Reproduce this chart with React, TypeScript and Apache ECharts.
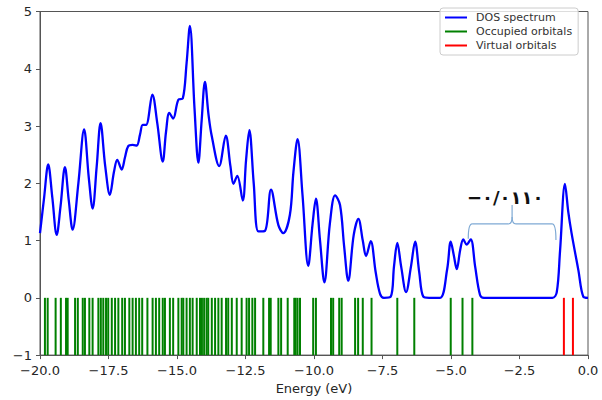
import React, { useEffect, useRef } from "react";
import * as echarts from "echarts";

// DOS spectrum (energy in eV, intensity)
const dosEnergy = [
  -20.0, -19.85, -19.7, -19.55, -19.39, -19.25, -19.09, -18.95, -18.81, -18.6,
  -18.39, -18.22, -18.08, -17.93, -17.79, -17.62, -17.45, -17.3, -17.18, -17.02,
  -16.9, -16.78, -16.62, -16.47, -16.35, -16.25, -16.13, -15.9, -15.72, -15.52,
  -15.4, -15.28, -15.14, -14.95, -14.79, -14.65, -14.53, -14.36, -14.22, -14.1,
  -13.98, -13.85, -13.73, -13.46, -13.22, -13.05, -12.94, -12.8, -12.6, -12.48,
  -12.36, -12.2, -12.03, -11.79, -11.57, -11.3, -11.12, -10.88, -10.75, -10.6,
  -10.42, -10.21, -10.05, -9.93, -9.78, -9.62, -9.42, -9.23, -9.05, -8.9,
  -8.75, -8.55, -8.38, -8.22, -8.1, -7.93, -7.75, -7.59, -7.45, -7.2,
  -7.08, -6.96, -6.82, -6.64, -6.46, -6.31, -6.16, -6.01, -5.8, -5.4,
  -5.14, -5.01, -4.9, -4.79, -4.66, -4.55, -4.43, -4.28, -4.12, -3.94,
  -3.8, -3.0, -2.0, -1.3, -1.14, -1.02, -0.84, -0.72, -0.6, -0.35,
  -0.17, 0.0,
];
const dosValue = [
  1.13, 1.75, 2.33, 1.75, 1.1, 1.6, 2.28, 1.7, 1.19, 2.0,
  2.94, 2.1, 1.56, 2.3, 3.05, 2.3, 1.8, 2.2, 2.41, 2.24,
  2.45, 2.65, 2.67, 2.66, 2.85, 3.02, 3.02, 3.55, 3.05, 2.38,
  2.9, 3.23, 3.13, 3.46, 3.48, 4.1, 4.75, 3.3, 2.36, 3.1,
  3.77, 3.2, 2.82, 2.3, 2.83, 2.3, 1.99, 2.13, 1.7, 2.4,
  2.93, 2.0, 1.16, 1.17, 1.89, 1.27, 1.13, 1.45, 2.2, 2.77,
  1.8, 0.56, 1.3, 1.73, 1.0, 0.27, 1.3, 1.79, 1.62, 0.9,
  0.3, 1.1, 1.38, 1.0, 0.73, 0.99, 0.45, 0.07, 0.0, 0.02,
  0.55, 0.96, 0.55, 0.1, 0.55, 0.98, 0.45, 0.02, 0.0, 0.0,
  0.5, 0.98, 0.75, 0.5, 0.85, 1.02, 0.93, 1.02, 0.55, 0.05,
  0.0, 0.0, 0.0, 0.0, 0.1, 0.82, 1.99, 1.5, 1.13, 0.48,
  0.02, 0.0,
];

// Orbital energies (eV)
const occupiedEnergies = [
  -19.82, -19.72, -19.43, -19.24, -19.05, -18.99, -18.72, -18.62, -18.44, -18.36,
  -18.2, -18.08, -17.87, -17.78, -17.69, -17.59, -17.51, -17.38, -17.26, -17.14,
  -17.0, -16.9, -16.74, -16.62, -16.5, -16.38, -16.27, -16.08, -15.89, -15.77,
  -15.65, -15.52, -15.44, -15.26, -15.14, -14.95, -14.83, -14.77, -14.65, -14.53,
  -14.43, -14.28, -14.16, -14.09, -14.01, -13.92, -13.86, -13.73, -13.61, -13.49,
  -13.37, -13.21, -13.13, -13.0, -12.82, -12.64, -12.46, -12.37, -12.25, -12.15,
  -11.85, -11.64, -11.58, -11.3, -11.2, -10.96, -10.72, -10.67, -10.6, -10.51,
  -10.03, -9.93, -9.38, -9.3, -9.08, -8.99, -8.5, -8.39, -8.22, -7.9,
  -6.96, -6.34, -5.01, -4.58, -4.22,
];
const virtualEnergies = [-0.88, -0.55];

// Gap annotation
const gapLabel = "−۰/۰۱۱۰";
const braceEnds = [-4.37, -1.17];
const braceMid = -2.77;
const braceLevels = [1.03, 1.29, 1.62]; // hook end, bar, stem top
const labelPos = [-3.02, 1.76];

const seriesNames = ["DOS spectrum", "Occupied orbitals", "Virtual orbitals"];
const seriesColors = ["#0000ff", "#008000", "#ff0000"];

const fmtMinus = (s: string) => s.replace("-", "\u2212");

function stickRender(color: string) {
  return (params: any, api: any) => {
    const e = api.value(0);
    const p0 = api.coord([e, api.value(1)]);
    const p1 = api.coord([e, api.value(2)]);
    return {
      type: "line",
      shape: { x1: p0[0], y1: p0[1], x2: p1[0], y2: p1[1] },
      style: { stroke: color, lineWidth: 2 },
    };
  };
}

export default function App() {
  const ref = useRef<HTMLDivElement>(null);
  useEffect(() => {
    if (!ref.current) return;
    const chart = echarts.init(ref.current, undefined, { renderer: "svg" });
    const axisColor = "#555555";
    const labelColor = "#262626";
    const font = "DejaVu Sans";

    const option: any = {
      animation: false,
      backgroundColor: "#ffffff",
      grid: {
        left: 40,
        right: 14,
        top: 11.5,
        bottom: 39.5,
        show: true,
        borderColor: axisColor,
        borderWidth: 1,
        backgroundColor: "transparent",
      },
      legend: {
        orient: "vertical",
        left: 440,
        top: 8,
        data: seriesNames.map((n, i) => ({
          name: n,
          icon: "rect",
          itemStyle: { color: seriesColors[i], borderWidth: 0 },
        })),
        itemWidth: 22,
        itemHeight: 2,
        itemGap: 3,
        padding: [4, 6, 4, 5],
        borderColor: "#cccccc",
        borderWidth: 1,
        borderRadius: 3,
        backgroundColor: "rgba(255,255,255,0.8)",
        textStyle: {
          fontFamily: font,
          fontSize: 11,
          color: "#333333",
          lineHeight: 11,
          padding: [0, 0, 0, 4],
        },
      },
      xAxis: {
        type: "value",
        min: -20,
        max: 0,
        interval: 2.5,
        name: "Energy (eV)",
        nameLocation: "middle",
        nameGap: 26,
        nameTextStyle: { fontFamily: font, fontSize: 13, color: labelColor },
        axisLine: { show: true, onZero: false, lineStyle: { color: axisColor } },
        axisTick: { show: true, length: 4, lineStyle: { color: axisColor } },
        axisLabel: {
          fontFamily: font,
          fontSize: 13,
          color: labelColor,
          margin: 9,
          formatter: (v: number) => fmtMinus(v.toFixed(1)),
        },
        splitLine: { show: false },
      },
      yAxis: {
        type: "value",
        min: -1,
        max: 5,
        interval: 1,
        axisLine: { show: true, onZero: false, lineStyle: { color: axisColor } },
        axisTick: { show: true, length: 4, lineStyle: { color: axisColor } },
        axisLabel: {
          fontFamily: font,
          fontSize: 13,
          color: labelColor,
          margin: 8,
          formatter: (v: number) => fmtMinus(String(v)),
        },
        splitLine: { show: false },
      },
      series: [
        {
          name: seriesNames[0],
          type: "line",
          data: dosEnergy.map((e, i) => [e, dosValue[i]]),
          showSymbol: false,
          smooth: 0.35,
          color: seriesColors[0],
          lineStyle: { color: seriesColors[0], width: 2.3 },
          z: 3,
        },
        {
          name: seriesNames[1],
          type: "custom",
          data: occupiedEnergies.map((e) => [e, -1, 0]),
          encode: { x: 0, y: [1, 2] },
          renderItem: stickRender(seriesColors[1]),
          color: seriesColors[1],
          itemStyle: { color: seriesColors[1] },
          z: 2,
        },
        {
          name: seriesNames[2],
          type: "custom",
          data: virtualEnergies.map((e) => [e, -1, 0]),
          encode: { x: 0, y: [1, 2] },
          renderItem: stickRender(seriesColors[2]),
          color: seriesColors[2],
          itemStyle: { color: seriesColors[2] },
          z: 2,
        },
        {
          name: "gap",
          type: "custom",
          silent: true,
          data: [[braceEnds[0], braceEnds[1], braceMid, labelPos[0], labelPos[1]]],
          encode: { x: [0, 1, 2, 3], y: 4 },
          renderItem: (params: any, api: any) => {
            const xl = api.value(0);
            const xr = api.value(1);
            const xm = api.value(2);
            const [yEnd, yBar, yTop] = braceLevels;
            const c = (x: number, y: number) => api.coord([x, y]);
            const hook = 0.14;
            const lift = 0.12;
            const stroke = { stroke: "#7ea9d4", lineWidth: 1.2, fill: null };
            const pL0 = c(xl, yEnd);
            const pLc = c(xl, yBar);
            const pL1 = c(xl + hook, yBar);
            const pM0 = c(xm - hook, yBar);
            const pMc = c(xm, yBar);
            const pM1 = c(xm, yBar + lift);
            const pMt = c(xm, yTop);
            const pR0 = c(xm + hook, yBar);
            const pR1 = c(xr - hook, yBar);
            const pRc = c(xr, yBar);
            const pRe = c(xr, yEnd - 0.02);
            const pt = c(api.value(3), api.value(4));
            return {
              type: "group",
              children: [
                { type: "bezierCurve", shape: { x1: pL0[0], y1: pL0[1], cpx1: pLc[0], cpy1: pLc[1], x2: pL1[0], y2: pL1[1] }, style: stroke },
                { type: "line", shape: { x1: pL1[0], y1: pL1[1], x2: pM0[0], y2: pM0[1] }, style: stroke },
                { type: "bezierCurve", shape: { x1: pM0[0], y1: pM0[1], cpx1: pMc[0], cpy1: pMc[1], x2: pM1[0], y2: pM1[1] }, style: stroke },
                { type: "line", shape: { x1: pM1[0], y1: pM1[1], x2: pMt[0], y2: pMt[1] }, style: stroke },
                { type: "bezierCurve", shape: { x1: pM1[0], y1: pM1[1], cpx1: pMc[0], cpy1: pMc[1], x2: pR0[0], y2: pR0[1] }, style: stroke },
                { type: "line", shape: { x1: pR0[0], y1: pR0[1], x2: pR1[0], y2: pR1[1] }, style: stroke },
                { type: "bezierCurve", shape: { x1: pR1[0], y1: pR1[1], cpx1: pRc[0], cpy1: pRc[1], x2: pRe[0], y2: pRe[1] }, style: stroke },
                {
                  type: "text",
                  x: pt[0],
                  y: pt[1],
                  style: {
                    text: gapLabel,
                    fill: "#111111",
                    fontSize: 18,
                    fontWeight: "bold",
                    fontFamily: font,
                    align: "center",
                    verticalAlign: "middle",
                  },
                },
              ],
            };
          },
          z: 4,
        },
      ],
    };
    chart.setOption(option);
    return () => chart.dispose();
  }, []);
  return (
    <div
      ref={ref}
      style={{ position: "fixed", left: 0, top: 0, width: 602, height: 400, background: "#fff" }}
    />
  );
}
